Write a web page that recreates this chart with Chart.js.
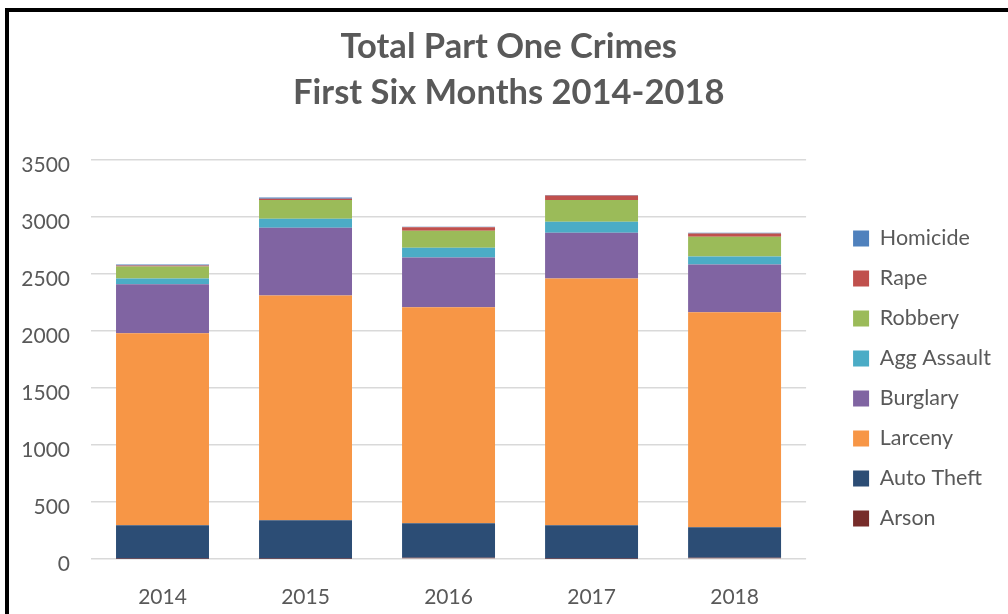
<!DOCTYPE html>
<html><head><meta charset="utf-8">
<script src="https://cdn.jsdelivr.net/npm/chart.js@4.4.1/dist/chart.umd.min.js"></script>
<style>
html,body{margin:0;padding:0;background:#fff;}
#wrap{position:relative;width:1008px;height:614px;overflow:hidden;}
#frame{position:absolute;left:5px;top:8px;width:1003px;height:620px;border-left:4px solid #000;border-top:4px solid #000;box-sizing:border-box;pointer-events:none;}
canvas{position:absolute;left:0;top:0;}
</style></head><body>
<div id="wrap"><canvas id="c" width="1008" height="614"></canvas><div id="frame"></div></div>
<script>
const years = ['2014', '2015', '2016', '2017', '2018'];
const arson = [3, 3, 12, 3, 10];
const autoTheft = [294, 337, 302, 294, 269];
const larceny = [1684, 1972, 1894, 2164, 1885];
const burglary = [430, 594, 436, 401, 419];
const aggAssault = [50, 78, 87, 96, 70];
const robbery = [104, 166, 149, 192, 174];
const rape = [10, 9, 29, 38, 29];
const homicide = [8, 11, 6, 6, 6];
const yTicks = [0, 500, 1000, 1500, 2000, 2500, 3000, 3500];
const titleLines = ['Total Part One Crimes', 'First Six Months 2014-2018'];

const TXT = '#595959';
const FONT = 'Lato';

function ds(label, data, color) {
  return { label, data, backgroundColor: color, borderWidth: 0,
           barPercentage: 0.65, categoryPercentage: 1.0 };
}

new Chart(document.getElementById('c'), {
  type: 'bar',
  data: {
    labels: years,
    datasets: [
      ds('Arson', arson, '#772C2A'),
      ds('Auto Theft', autoTheft, '#2C4D75'),
      ds('Larceny', larceny, '#F79646'),
      ds('Burglary', burglary, '#8064A2'),
      ds('Agg Assault', aggAssault, '#4BACC6'),
      ds('Robbery', robbery, '#9BBB59'),
      ds('Rape', rape, '#C0504D'),
      ds('Homicide', homicide, '#4F81BD')
    ]
  },
  options: {
    responsive: false,
    animation: false,
    devicePixelRatio: 1,
    layout: { padding: { left: 20, right: 10.5, top: 12, bottom: 0 } },
    plugins: {
      title: {
        display: true,
        text: titleLines,
        color: TXT,
        font: { family: FONT, size: 34.5, weight: 'bold', lineHeight: 46 / 34.5 },
        padding: { top: 12, bottom: 44 }
      },
      legend: {
        display: true,
        position: 'right',
        fullSize: false,
        reverse: true,
        align: 'center',
        title: { display: true, text: ' ', font: { size: 10, lineHeight: 1 }, padding: { top: 28, bottom: 0 } },
        labels: {
          color: TXT,
          font: { family: FONT, size: 21.5 },
          boxWidth: 16,
          boxHeight: 16,
          padding: 18.5
        }
      },
      tooltip: { enabled: false }
    },
    scales: {
      x: {
        stacked: true,
        grid: { display: false },
        border: { display: false },
        ticks: { color: TXT, font: { family: FONT, size: 21 }, padding: 18 },
        afterFit: s => { s.height = 55; }
      },
      y: {
        stacked: true,
        min: 0,
        max: 3500,
        afterBuildTicks: s => { s.ticks = yTicks.map(v => ({ value: v })); },
        grid: { color: '#D9D9D9', lineWidth: 1.5, drawTicks: false },
        border: { display: false },
        ticks: { color: TXT, font: { family: FONT, size: 21 }, padding: 21, labelOffset: 5,
                 callback: v => String(v) },
        afterFit: s => { s.width = 71; }
      },
      gap: {
        type: 'linear',
        position: 'right',
        display: true,
        grid: { display: false, drawTicks: false },
        border: { display: false },
        ticks: { display: false },
        afterFit: s => { s.width = 28.5; }
      }
    }
  }
});
</script>
</body></html>
